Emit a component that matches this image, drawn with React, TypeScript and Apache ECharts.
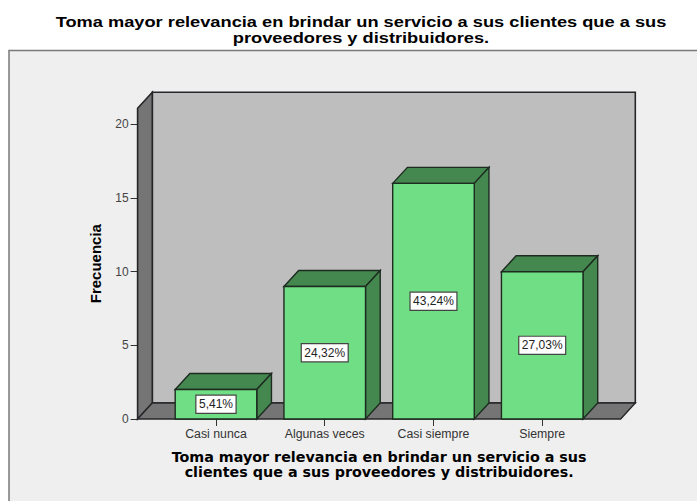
import React, { useEffect, useRef } from "react";
import * as echarts from "echarts";

const categories = ["Casi nunca", "Algunas veces", "Casi siempre", "Siempre"];
const frequencies = [2, 9, 16, 10];
const percentLabels = ["5,41%", "24,32%", "43,24%", "27,03%"];
const yTicks = [0, 5, 10, 15, 20];
const yMax = 21.1;
const titleLines = [
  "Toma mayor relevancia en brindar un servicio a sus clientes que a sus",
  "proveedores y distribuidores.",
];
const xAxisTitle = "Toma mayor relevancia en brindar un servicio a sus\nclientes que a sus proveedores y distribuidores.";
const yAxisTitle = "Frecuencia";

const DX = 14.7;
const DY = 16;
const SIDE = 24;
const EDGE = "#1d2b20";
const DARK = "#26262a";

function poly(points: number[][], fill: string, stroke: string, lineWidth = 1.4) {
  return { type: "polygon", shape: { points }, style: { fill, stroke, lineWidth, lineJoin: "miter" } };
}

function renderWalls(params: any, api: any) {
  const cs = params.coordSys;
  const [, y0] = api.coord([0, 0]);
  const [, yT] = api.coord([0, yMax]);
  const l = cs.x - SIDE;
  const r = cs.x + cs.width + SIDE;
  return {
    type: "group",
    children: [
      poly([[l + DX, yT - DY], [r + DX, yT - DY], [r + DX, y0 - DY], [l + DX, y0 - DY]], "#bebebe", DARK, 1.6),
      poly([[l, yT], [l + DX, yT - DY], [l + DX, y0 - DY], [l, y0]], "#757575", DARK, 1.6),
      poly([[l, y0], [l + DX, y0 - DY], [r + DX, y0 - DY], [r, y0]], "#757575", DARK, 1.4),
    ],
  };
}

function renderBar(params: any, api: any) {
  const [cx, yTop] = api.coord([api.value(0), api.value(1)]);
  const [, yBase] = api.coord([0, 0]);
  const w = api.size([1, 0])[0] * 0.75;
  const l = cx - w / 2;
  const r = cx + w / 2;
  return {
    type: "group",
    children: [
      poly([[l, yTop], [l + DX, yTop - DY], [r + DX, yTop - DY], [r, yTop]], "#44884f", EDGE),
      poly([[r, yTop], [r + DX, yTop - DY], [r + DX, yBase - DY], [r, yBase]], "#44884f", EDGE),
      poly([[l, yTop], [r, yTop], [r, yBase], [l, yBase]], "#70de84", EDGE),
      {
        type: "text",
        z2: 10,
        style: {
          text: percentLabels[params.dataIndex],
          x: cx,
          y: (yTop + yBase) / 2,
          align: "center",
          verticalAlign: "middle",
          fill: "#222",
          fontSize: 12,
          fontFamily: "Liberation Sans",
          backgroundColor: "#fff",
          borderColor: "#444",
          borderWidth: 1.2,
          padding: [3, 2.5, 2, 2.5],
        },
      },
    ],
  };
}

function titleText(text: string, y: number) {
  return {
    type: "text",
    x: 361,
    y,
    scaleX: 1.258,
    style: {
      text,
      x: 0,
      y: 0,
      align: "center",
      verticalAlign: "middle",
      fontFamily: "Liberation Sans",
      fontWeight: "bold",
      fontSize: 14.5,
      fill: "#000",
    },
  };
}

export default function App() {
  const ref = useRef<HTMLDivElement>(null);
  useEffect(() => {
    const chart = echarts.init(ref.current!, undefined, { renderer: "svg" });
    chart.setOption({
      animation: false,
      backgroundColor: "#ffffff",
      graphic: [
        {
          type: "rect",
          z: -10,
          shape: { x: 9, y: 50.5, width: 700, height: 470 },
          style: { fill: "#efefef", stroke: "#7a7a7a", lineWidth: 1.5 },
        },
        titleText(titleLines[0], 21.5),
        titleText(titleLines[1], 38),
      ],
      grid: { left: 161.6, top: 108.3, width: 435, height: 310.7 },
      xAxis: {
        type: "category",
        data: categories,
        axisLine: { show: false },
        axisTick: { show: true, alignWithLabel: true, length: 7, lineStyle: { color: "#333", width: 1 } },
        axisLabel: { fontFamily: "Liberation Sans", fontSize: 12.3, color: "#333", margin: 9 },
        name: xAxisTitle,
        nameLocation: "middle",
        nameGap: 30,
        nameTextStyle: { fontFamily: "DejaVu Sans", fontWeight: "bold", fontSize: 14.3, color: "#000", lineHeight: 15.5, verticalAlign: "top" },
      },
      yAxis: {
        type: "value",
        min: 0,
        max: yMax,
        interval: 5,
        offset: SIDE,
        splitLine: { show: false },
        axisLine: { show: false },
        axisTick: { show: true, length: 7, customValues: yTicks, lineStyle: { color: "#333", width: 1 } },
        axisLabel: { customValues: yTicks, fontFamily: "Liberation Sans", fontSize: 12, color: "#444", margin: 9 },
        name: yAxisTitle,
        nameLocation: "middle",
        nameRotate: 90,
        nameGap: 35,
        nameTextStyle: { fontFamily: "Liberation Sans", fontWeight: "bold", fontSize: 15, color: "#000" },
      },
      series: [
        {
          type: "custom",
          silent: true,
          clip: false,
          z: 1,
          data: [[0, 0]],
          encode: { x: 0, y: 1 },
          renderItem: renderWalls,
        },
        {
          type: "custom",
          clip: false,
          z: 3,
          data: frequencies.map((v, i) => [i, v]),
          encode: { x: 0, y: 1 },
          renderItem: renderBar,
        },
      ],
    });
    return () => chart.dispose();
  }, []);
  return <div ref={ref} style={{ position: "absolute", left: 0, top: 0, width: 697, height: 501, overflow: "hidden" }} />;
}
